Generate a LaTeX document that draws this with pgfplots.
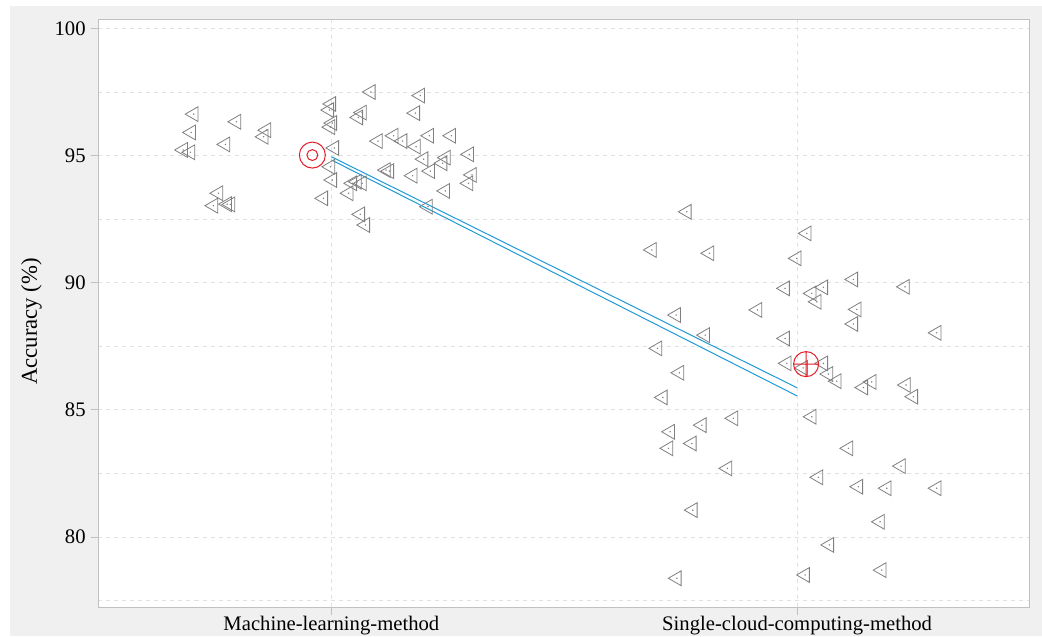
\documentclass[border=0pt]{standalone}
\usepackage{fontspec}
\setmainfont{Liberation Serif}
\usepackage{pgfplots}
\pgfplotsset{compat=1.18}
\usepackage{pgfplotstable}
\definecolor{bggray}{RGB}{240,240,240}
\definecolor{axgray}{RGB}{192,192,192}
\definecolor{gridgray}{RGB}{225,225,225}
\definecolor{mkgray}{RGB}{128,128,128}
\definecolor{mred}{RGB}{230,30,40}
\definecolor{lblue}{RGB}{30,155,215}

\pgfplotstableread{
x y
-0.2955 96.63
-0.2039 96.33
-0.3011 95.91
-0.1395 96.00
-0.1453 95.74
-0.2275 95.44
-0.3182 95.22
-0.3026 95.13
-0.2425 93.52
-0.2532 93.03
-0.2238 93.09
-0.2167 93.08
0.0000 97.03
-0.0043 96.79
0.0021 96.28
-0.0021 96.12
0.0064 95.30
-0.0021 94.56
0.0021 94.04
-0.0172 93.32
0.0848 97.50
0.1910 97.36
0.0659 96.69
0.0579 96.50
0.1803 96.67
0.1002 95.57
0.1337 95.78
0.1530 95.57
0.1818 95.35
0.2103 95.78
0.2575 95.78
0.1981 94.86
0.2461 94.92
0.2388 94.70
0.2961 95.05
0.1245 94.39
0.1174 94.43
0.1745 94.21
0.2124 94.39
0.3019 94.24
0.2946 93.91
0.0451 93.91
0.0552 93.97
0.0659 93.91
0.0371 93.52
0.2446 93.61
0.2075 92.99
0.0622 92.69
0.0730 92.27
}\mldata

\pgfplotstableread{
x y
0.7633 92.79
1.0208 91.94
0.6882 91.29
0.8118 91.16
0.9994 90.96
0.9742 89.78
1.0315 89.58
1.0564 89.82
1.0423 89.25
1.1208 90.13
1.2318 89.84
0.9148 88.93
1.1281 88.95
1.1208 88.38
0.7403 88.73
0.8026 87.94
0.9742 87.81
1.2998 88.03
0.7002 87.42
0.7474 86.46
0.9779 86.83
1.0564 86.83
1.0672 86.41
1.0852 86.13
1.1603 86.10
1.1423 85.88
1.2339 85.98
1.2496 85.52
0.7118 85.49
1.0315 84.73
0.8633 84.67
0.7955 84.40
0.7275 84.14
0.7238 83.49
0.7740 83.68
1.1101 83.49
0.8504 82.70
1.2232 82.79
1.0457 82.35
1.1315 81.98
1.1925 81.92
1.2998 81.92
0.7762 81.06
1.1781 80.60
1.0693 79.69
0.7418 78.38
1.0172 78.51
1.1818 78.70
1.0129 86.65
}\scdata

\begin{document}
\begin{tikzpicture}
\useasboundingbox (-73.875pt,-21.75pt) rectangle (707.625pt,455.25pt);
\fill[white] (-73.875pt,-21.75pt) rectangle (707.625pt,455.25pt);
\fill[bggray] (-66.375pt,-21.75pt) rectangle (707.625pt,450.75pt);
\begin{axis}[
  at={(0pt,0pt)}, anchor=south west,
  scale only axis,
  width=698.6pt, height=440.6pt,
  xmin=-0.5, xmax=1.5,
  ymin=77.25, ymax=100.35,
  axis background/.style={fill=white},
  axis line style={axgray, line width=0.75pt},
  xtick={0,1},
  xticklabels={Machine-learning-method, Single-cloud-computing-method},
  ytick={80,85,90,95,100},
  minor ytick={77.5,82.5,87.5,92.5,97.5},
  minor tick length=0pt,
  major tick length=5.7pt,
  tick align=outside,
  tick pos=left,
  tick style={axgray, line width=0.75pt},
  xmajorgrids, ymajorgrids, yminorgrids,
  grid style={gridgray, line width=0.75pt, dash pattern=on 3pt off 3pt},
  minor grid style={gridgray, line width=0.75pt, dash pattern=on 3pt off 3pt},
  /pgf/number format/assume math mode=true,
  tick label style={font=\fontsize{15.5}{18}\selectfont, black},
  yticklabel style={anchor=east, inner sep=0pt, xshift=-3.75pt},
  xticklabel style={anchor=base, inner sep=0pt, yshift=-12pt},
  ylabel={Accuracy (\%)},
  every axis y label/.style={at={(axis description cs:-0.0719,0.486)}, rotate=90, anchor=center, font=\fontsize{17}{20}\selectfont},
  clip=false,
]
\addplot[only marks, mark=triangle, mark size=6.4pt, mark options={rotate=90, draw=mkgray, line width=0.6pt}] table[x=x,y=y] {\mldata};
\addplot[only marks, mark=*, mark size=0.3pt, mark options={mkgray}] table[x=x,y=y] {\mldata};
\addplot[only marks, mark=triangle, mark size=6.4pt, mark options={rotate=90, draw=mkgray, line width=0.6pt}] table[x=x,y=y] {\scdata};
\addplot[only marks, mark=*, mark size=0.3pt, mark options={mkgray}] table[x=x,y=y] {\scdata};
\addplot[lblue, line width=0.75pt, no marks] coordinates {(0,94.955) (1,85.87)};
\addplot[lblue, line width=0.75pt, no marks] coordinates {(0,94.83) (1,85.55)};
\addplot[only marks, mark=o, mark size=9.75pt, mark options={mred, line width=0.75pt}] coordinates {(-0.0408,95.02)};
\addplot[only marks, mark=o, mark size=4.1pt, mark options={mred, line width=0.75pt}] coordinates {(-0.0408,95.02)};
\addplot[only marks, mark=oplus, mark size=9.4pt, mark options={mred, line width=0.75pt}] coordinates {(1.0193,86.80)};
\end{axis}
\end{tikzpicture}
\end{document}
